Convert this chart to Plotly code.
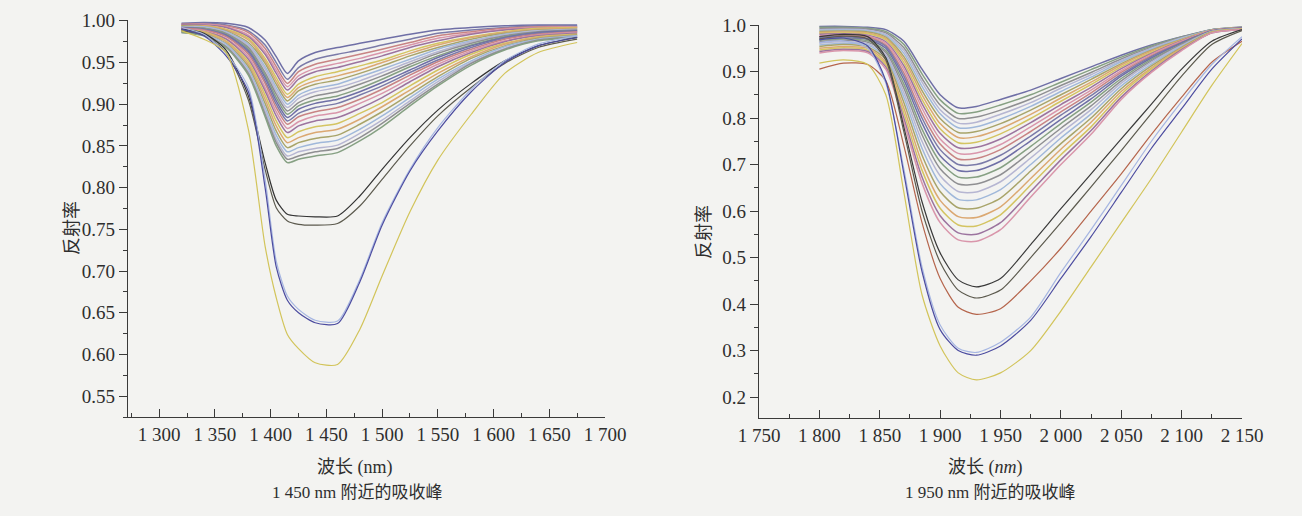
import plotly.graph_objects as go

# ---------------- Left panel: absorption peak near 1450 nm ----------------
wl_1450 = [1320, 1340, 1360, 1380, 1395, 1405, 1415, 1425, 1440, 1460, 1480, 1500, 1525, 1550, 1580, 1610, 1640, 1675]

a01 = [0.997, 0.998, 0.997, 0.992, 0.977, 0.957, 0.937, 0.952, 0.962, 0.968, 0.973, 0.978, 0.984, 0.989, 0.992, 0.994, 0.995, 0.995]
a02 = [0.996, 0.997, 0.995, 0.988, 0.971, 0.950, 0.930, 0.944, 0.954, 0.960, 0.965, 0.971, 0.978, 0.985, 0.989, 0.992, 0.994, 0.994]
a03 = [0.996, 0.996, 0.994, 0.986, 0.967, 0.945, 0.925, 0.939, 0.948, 0.954, 0.960, 0.966, 0.974, 0.982, 0.987, 0.991, 0.993, 0.993]
a04 = [0.995, 0.996, 0.993, 0.983, 0.963, 0.941, 0.921, 0.934, 0.943, 0.949, 0.955, 0.962, 0.971, 0.979, 0.985, 0.990, 0.992, 0.993]
a05 = [0.995, 0.995, 0.992, 0.981, 0.960, 0.937, 0.917, 0.930, 0.939, 0.944, 0.951, 0.958, 0.968, 0.976, 0.984, 0.989, 0.991, 0.992]
a06 = [0.994, 0.994, 0.990, 0.979, 0.955, 0.932, 0.912, 0.924, 0.933, 0.939, 0.946, 0.953, 0.964, 0.973, 0.981, 0.987, 0.991, 0.992]
a07 = [0.994, 0.994, 0.989, 0.977, 0.952, 0.928, 0.908, 0.920, 0.928, 0.934, 0.941, 0.950, 0.961, 0.971, 0.980, 0.986, 0.990, 0.991]
a08 = [0.994, 0.993, 0.988, 0.974, 0.949, 0.924, 0.904, 0.916, 0.924, 0.929, 0.937, 0.946, 0.958, 0.968, 0.978, 0.985, 0.989, 0.990]
a09 = [0.993, 0.993, 0.987, 0.972, 0.945, 0.920, 0.900, 0.911, 0.919, 0.924, 0.933, 0.942, 0.954, 0.966, 0.976, 0.984, 0.988, 0.990]
a10 = [0.993, 0.992, 0.986, 0.970, 0.942, 0.916, 0.896, 0.907, 0.915, 0.920, 0.928, 0.938, 0.951, 0.963, 0.975, 0.983, 0.988, 0.989]
a11 = [0.992, 0.991, 0.985, 0.968, 0.938, 0.912, 0.892, 0.902, 0.910, 0.915, 0.924, 0.934, 0.948, 0.961, 0.973, 0.982, 0.987, 0.989]
a12 = [0.992, 0.991, 0.984, 0.966, 0.935, 0.908, 0.888, 0.898, 0.905, 0.910, 0.919, 0.930, 0.945, 0.958, 0.971, 0.981, 0.986, 0.988]
a13 = [0.992, 0.990, 0.983, 0.964, 0.932, 0.904, 0.884, 0.894, 0.901, 0.906, 0.915, 0.926, 0.941, 0.956, 0.970, 0.980, 0.986, 0.988]
a14 = [0.991, 0.990, 0.982, 0.962, 0.928, 0.900, 0.880, 0.889, 0.896, 0.901, 0.911, 0.922, 0.938, 0.953, 0.968, 0.979, 0.985, 0.987]
a15 = [0.991, 0.989, 0.981, 0.960, 0.925, 0.896, 0.876, 0.885, 0.891, 0.896, 0.906, 0.918, 0.935, 0.951, 0.966, 0.978, 0.984, 0.987]
a16 = [0.990, 0.988, 0.979, 0.957, 0.920, 0.891, 0.871, 0.879, 0.886, 0.890, 0.901, 0.913, 0.931, 0.948, 0.964, 0.976, 0.983, 0.986]
a17 = [0.990, 0.987, 0.978, 0.954, 0.916, 0.886, 0.866, 0.874, 0.880, 0.884, 0.895, 0.908, 0.927, 0.945, 0.962, 0.975, 0.982, 0.985]
a18 = [0.989, 0.987, 0.976, 0.951, 0.911, 0.880, 0.860, 0.867, 0.873, 0.877, 0.889, 0.902, 0.922, 0.941, 0.960, 0.973, 0.981, 0.984]
a19 = [0.989, 0.986, 0.975, 0.948, 0.906, 0.874, 0.854, 0.860, 0.866, 0.870, 0.882, 0.897, 0.917, 0.937, 0.957, 0.972, 0.980, 0.983]
a20 = [0.988, 0.985, 0.973, 0.945, 0.901, 0.868, 0.848, 0.854, 0.859, 0.863, 0.876, 0.891, 0.912, 0.933, 0.955, 0.970, 0.979, 0.983]
a21 = [0.987, 0.984, 0.972, 0.942, 0.896, 0.863, 0.843, 0.848, 0.853, 0.857, 0.870, 0.886, 0.908, 0.930, 0.952, 0.969, 0.978, 0.982]
a22 = [0.987, 0.983, 0.970, 0.939, 0.892, 0.858, 0.838, 0.843, 0.847, 0.851, 0.865, 0.881, 0.904, 0.927, 0.950, 0.967, 0.977, 0.981]
a23 = [0.986, 0.983, 0.969, 0.937, 0.888, 0.854, 0.834, 0.838, 0.843, 0.847, 0.860, 0.877, 0.901, 0.924, 0.949, 0.966, 0.977, 0.981]
a24 = [0.986, 0.982, 0.968, 0.935, 0.885, 0.850, 0.830, 0.834, 0.838, 0.842, 0.856, 0.873, 0.898, 0.922, 0.947, 0.965, 0.976, 0.980]

a_black = [0.990, 0.985, 0.965, 0.910, 0.830, 0.785, 0.768, 0.766, 0.765, 0.766, 0.790, 0.822, 0.860, 0.893, 0.925, 0.952, 0.970, 0.980]
a_grey = [0.988, 0.983, 0.962, 0.905, 0.822, 0.776, 0.760, 0.756, 0.755, 0.757, 0.778, 0.810, 0.850, 0.886, 0.920, 0.949, 0.968, 0.978]
a_blue = [0.990, 0.982, 0.958, 0.915, 0.800, 0.705, 0.665, 0.650, 0.638, 0.637, 0.687, 0.755, 0.820, 0.868, 0.915, 0.950, 0.970, 0.980]
a_ltblue = [0.992, 0.984, 0.961, 0.920, 0.810, 0.712, 0.670, 0.654, 0.641, 0.640, 0.690, 0.758, 0.822, 0.872, 0.918, 0.952, 0.972, 0.982]
a_yellow = [0.988, 0.978, 0.962, 0.870, 0.730, 0.668, 0.624, 0.607, 0.590, 0.588, 0.630, 0.694, 0.771, 0.833, 0.888, 0.937, 0.962, 0.974]

# ---------------- Right panel: absorption peak near 1950 nm ----------------
wl_1950 = [1800, 1820, 1840, 1855, 1870, 1885, 1900, 1915, 1930, 1950, 1975, 2000, 2025, 2050, 2075, 2100, 2125, 2150]

b01 = [0.997, 0.997, 0.995, 0.990, 0.965, 0.905, 0.850, 0.822, 0.825, 0.840, 0.860, 0.885, 0.910, 0.935, 0.957, 0.975, 0.990, 0.995]
b02 = [0.995, 0.995, 0.993, 0.986, 0.958, 0.895, 0.839, 0.810, 0.813, 0.828, 0.850, 0.877, 0.904, 0.931, 0.955, 0.974, 0.990, 0.995]
b03 = [0.992, 0.993, 0.991, 0.983, 0.951, 0.885, 0.828, 0.799, 0.802, 0.817, 0.841, 0.870, 0.898, 0.927, 0.952, 0.973, 0.989, 0.995]
b04 = [0.990, 0.991, 0.989, 0.980, 0.945, 0.877, 0.818, 0.789, 0.791, 0.808, 0.833, 0.864, 0.893, 0.924, 0.950, 0.972, 0.989, 0.994]
b05 = [0.988, 0.989, 0.987, 0.977, 0.939, 0.868, 0.809, 0.779, 0.781, 0.798, 0.825, 0.857, 0.888, 0.921, 0.948, 0.971, 0.989, 0.994]
b06 = [0.986, 0.987, 0.985, 0.974, 0.932, 0.859, 0.799, 0.769, 0.771, 0.788, 0.817, 0.850, 0.883, 0.917, 0.946, 0.969, 0.989, 0.994]
b07 = [0.984, 0.985, 0.983, 0.971, 0.926, 0.850, 0.788, 0.758, 0.760, 0.777, 0.808, 0.843, 0.877, 0.914, 0.944, 0.968, 0.988, 0.994]
b08 = [0.982, 0.983, 0.981, 0.968, 0.919, 0.840, 0.777, 0.747, 0.748, 0.766, 0.799, 0.836, 0.872, 0.910, 0.941, 0.967, 0.988, 0.994]
b09 = [0.980, 0.981, 0.978, 0.964, 0.912, 0.831, 0.767, 0.736, 0.737, 0.755, 0.790, 0.829, 0.866, 0.906, 0.939, 0.966, 0.988, 0.994]
b10 = [0.977, 0.979, 0.976, 0.961, 0.905, 0.821, 0.755, 0.724, 0.725, 0.743, 0.781, 0.821, 0.860, 0.902, 0.937, 0.965, 0.988, 0.993]
b11 = [0.975, 0.977, 0.974, 0.957, 0.897, 0.810, 0.744, 0.712, 0.713, 0.732, 0.771, 0.813, 0.854, 0.898, 0.934, 0.963, 0.987, 0.993]
b12 = [0.973, 0.975, 0.971, 0.954, 0.890, 0.800, 0.732, 0.700, 0.700, 0.720, 0.761, 0.806, 0.848, 0.894, 0.932, 0.962, 0.987, 0.993]
b13 = [0.970, 0.972, 0.969, 0.950, 0.882, 0.789, 0.719, 0.687, 0.687, 0.707, 0.751, 0.797, 0.841, 0.890, 0.929, 0.961, 0.987, 0.993]
b14 = [0.967, 0.970, 0.966, 0.945, 0.873, 0.776, 0.706, 0.673, 0.673, 0.693, 0.739, 0.788, 0.834, 0.885, 0.926, 0.959, 0.986, 0.992]
b15 = [0.964, 0.967, 0.963, 0.941, 0.864, 0.764, 0.691, 0.658, 0.658, 0.678, 0.727, 0.778, 0.826, 0.880, 0.923, 0.958, 0.986, 0.992]
b16 = [0.961, 0.964, 0.960, 0.936, 0.854, 0.750, 0.676, 0.642, 0.641, 0.663, 0.714, 0.768, 0.818, 0.875, 0.920, 0.956, 0.986, 0.992]
b17 = [0.957, 0.961, 0.957, 0.931, 0.844, 0.735, 0.659, 0.625, 0.624, 0.646, 0.700, 0.757, 0.809, 0.869, 0.916, 0.954, 0.985, 0.992]
b18 = [0.954, 0.958, 0.953, 0.926, 0.833, 0.720, 0.642, 0.607, 0.606, 0.628, 0.686, 0.745, 0.800, 0.863, 0.912, 0.952, 0.985, 0.991]
b19 = [0.950, 0.954, 0.950, 0.920, 0.821, 0.703, 0.623, 0.588, 0.586, 0.609, 0.670, 0.733, 0.791, 0.857, 0.908, 0.950, 0.984, 0.991]
b20 = [0.946, 0.951, 0.946, 0.915, 0.810, 0.688, 0.606, 0.570, 0.568, 0.592, 0.656, 0.721, 0.781, 0.851, 0.905, 0.948, 0.984, 0.991]
b21 = [0.943, 0.948, 0.943, 0.910, 0.799, 0.673, 0.590, 0.553, 0.550, 0.575, 0.642, 0.710, 0.773, 0.845, 0.901, 0.947, 0.983, 0.990]
b22 = [0.940, 0.945, 0.940, 0.905, 0.790, 0.660, 0.575, 0.538, 0.535, 0.560, 0.630, 0.700, 0.765, 0.840, 0.898, 0.945, 0.983, 0.990]

b_black1 = [0.975, 0.980, 0.975, 0.930, 0.780, 0.620, 0.510, 0.452, 0.437, 0.455, 0.528, 0.605, 0.680, 0.755, 0.830, 0.905, 0.965, 0.990]
b_black2 = [0.970, 0.976, 0.970, 0.925, 0.770, 0.600, 0.490, 0.430, 0.413, 0.430, 0.500, 0.575, 0.652, 0.730, 0.810, 0.890, 0.958, 0.988]
b_orange = [0.905, 0.918, 0.915, 0.880, 0.740, 0.575, 0.455, 0.393, 0.378, 0.390, 0.450, 0.520, 0.600, 0.680, 0.765, 0.845, 0.920, 0.965]
b_blue = [0.968, 0.972, 0.955, 0.880, 0.680, 0.470, 0.345, 0.300, 0.290, 0.310, 0.365, 0.455, 0.545, 0.640, 0.735, 0.820, 0.905, 0.970]
b_ltblue = [0.962, 0.966, 0.950, 0.875, 0.690, 0.480, 0.355, 0.305, 0.296, 0.318, 0.372, 0.468, 0.560, 0.655, 0.750, 0.835, 0.915, 0.975]
b_yellow = [0.918, 0.925, 0.915, 0.850, 0.640, 0.420, 0.310, 0.252, 0.237, 0.252, 0.300, 0.385, 0.480, 0.575, 0.670, 0.770, 0.870, 0.960]

# tick labels
x_ticks_1450 = [1300, 1350, 1400, 1450, 1500, 1550, 1600, 1650, 1700]
x_text_1450 = ["1 300", "1 350", "1 400", "1 450", "1 500", "1 550", "1 600", "1 650", "1 700"]
y_ticks_1450 = [0.55, 0.60, 0.65, 0.70, 0.75, 0.80, 0.85, 0.90, 0.95, 1.00]
y_text_1450 = ["0.55", "0.60", "0.65", "0.70", "0.75", "0.80", "0.85", "0.90", "0.95", "1.00"]
x_ticks_1950 = [1750, 1800, 1850, 1900, 1950, 2000, 2050, 2100, 2150]
x_text_1950 = ["1 750", "1 800", "1 850", "1 900", "1 950", "2 000", "2 050", "2 100", "2 150"]
y_ticks_1950 = [0.2, 0.3, 0.4, 0.5, 0.6, 0.7, 0.8, 0.9, 1.0]
y_text_1950 = ["0.2", "0.3", "0.4", "0.5", "0.6", "0.7", "0.8", "0.9", "1.0"]

palette = ["#6f6fa6", "#d4c462", "#8f8f92", "#d996ab", "#a0b8da", "#7a7aa8",
           "#dba872", "#86a083", "#9c749f", "#b6b6d2", "#c88484", "#a8a46a"]

cluster_1450 = [a01, a02, a03, a04, a05, a06, a07, a08, a09, a10, a11, a12,
                a13, a14, a15, a16, a17, a18, a19, a20, a21, a22, a23, a24]
cluster_1950 = [b01, b02, b03, b04, b05, b06, b07, b08, b09, b10, b11,
                b12, b13, b14, b15, b16, b17, b18, b19, b20, b21, b22]

fig = go.Figure()
line_shape = dict(shape="spline", smoothing=0.7)

for i, ys in enumerate(cluster_1450):
    fig.add_trace(go.Scatter(x=wl_1450, y=ys, mode="lines", xaxis="x", yaxis="y",
                             line=dict(color=palette[(i * 5) % len(palette)], width=1.5, **line_shape),
                             showlegend=False, hoverinfo="skip"))
for ys, col in [(a_black, "#333333"), (a_grey, "#5c5a4e"), (a_ltblue, "#a6b6e2"),
                (a_blue, "#4c4ca0"), (a_yellow, "#d2c45a")]:
    fig.add_trace(go.Scatter(x=wl_1450, y=ys, mode="lines", xaxis="x", yaxis="y",
                             line=dict(color=col, width=1.2, **line_shape),
                             showlegend=False, hoverinfo="skip"))

for i, ys in enumerate(cluster_1950):
    fig.add_trace(go.Scatter(x=wl_1950, y=ys, mode="lines", xaxis="x2", yaxis="y2",
                             line=dict(color=palette[(i * 7) % len(palette)], width=1.5, **line_shape),
                             showlegend=False, hoverinfo="skip"))
for ys, col in [(b_black1, "#3a3a3a"), (b_black2, "#5c5a4e"), (b_orange, "#b5654c"),
                (b_ltblue, "#a6b6e2"), (b_blue, "#4c4ca0"), (b_yellow, "#d2c45a")]:
    fig.add_trace(go.Scatter(x=wl_1950, y=ys, mode="lines", xaxis="x2", yaxis="y2",
                             line=dict(color=col, width=1.2, **line_shape),
                             showlegend=False, hoverinfo="skip"))

W, H = 1302, 516
tick_font = dict(family="Liberation Serif, Times New Roman, serif", size=19, color="#2e2e2e")
axis_common = dict(showline=True, linecolor="#3a3a3a", linewidth=1.3, showgrid=False,
                   zeroline=False, tickfont=tick_font, tickcolor="#3a3a3a", tickwidth=1.2,
                   automargin=False)

fig.update_layout(
    width=W, height=H, autosize=False,
    margin=dict(l=0, r=0, t=0, b=0),
    paper_bgcolor="#f3f3f1", plot_bgcolor="rgba(0,0,0,0)",
    xaxis=dict(domain=[128 / W, 605 / W], range=[1272, 1700], anchor="y",
               tickmode="array", tickvals=x_ticks_1450, ticktext=x_text_1450,
               ticks="inside", ticklen=8,
               minor=dict(dtick=25, tick0=1275, ticks="inside", ticklen=4, tickcolor="#3a3a3a"),
               **axis_common),
    yaxis=dict(domain=[(H - 417) / H, (H - 20) / H], range=[0.525, 1.001], anchor="x",
               tickmode="array", tickvals=y_ticks_1450, ticktext=y_text_1450,
               ticks="outside", ticklen=8,
               minor=dict(dtick=0.025, tick0=0.525, ticks="outside", ticklen=4, tickcolor="#3a3a3a"),
               **axis_common),
    xaxis2=dict(domain=[759 / W, 1242 / W], range=[1750, 2150], anchor="y2",
                tickmode="array", tickvals=x_ticks_1950, ticktext=x_text_1950,
                ticks="inside", ticklen=8,
                minor=dict(dtick=25, tick0=1775, ticks="inside", ticklen=4, tickcolor="#3a3a3a"),
                **axis_common),
    yaxis2=dict(domain=[(H - 418) / H, (H - 25) / H], range=[0.155, 1.0], anchor="x2",
                tickmode="array", tickvals=y_ticks_1950, ticktext=y_text_1950,
                ticks="outside", ticklen=8,
                minor=dict(dtick=0.05, tick0=0.15, ticks="outside", ticklen=4, tickcolor="#3a3a3a"),
                **axis_common),
)

txt_font = dict(family="Liberation Serif, Noto Sans CJK SC, serif", size=18, color="#2e2e2e")
cap_font = dict(family="Liberation Serif, Noto Sans CJK SC, serif", size=17, color="#2e2e2e")
ann = [
    dict(x=72 / W, y=(H - 228) / H, text="反射率", textangle=-90, font=txt_font),
    dict(x=704 / W, y=(H - 232) / H, text="反射率", textangle=-90, font=txt_font),
    dict(x=355 / W, y=(H - 467) / H, text="波长 (nm)", font=txt_font),
    dict(x=985 / W, y=(H - 467) / H, text="波长 (<i>nm</i>)", font=txt_font),
    dict(x=357 / W, y=(H - 492) / H, text="1 450 nm 附近的吸收峰", font=cap_font),
    dict(x=990 / W, y=(H - 492) / H, text="1 950 nm 附近的吸收峰", font=cap_font),
]
for a in ann:
    fig.add_annotation(xref="paper", yref="paper", showarrow=False,
                       xanchor="center", yanchor="middle", **a)

fig.write_html(
    "out.html",
    config={"responsive": False, "displayModeBar": False},
    post_script="document.body.style.margin='0';document.body.style.overflow='hidden';"
                "document.documentElement.style.overflow='hidden';",
)
